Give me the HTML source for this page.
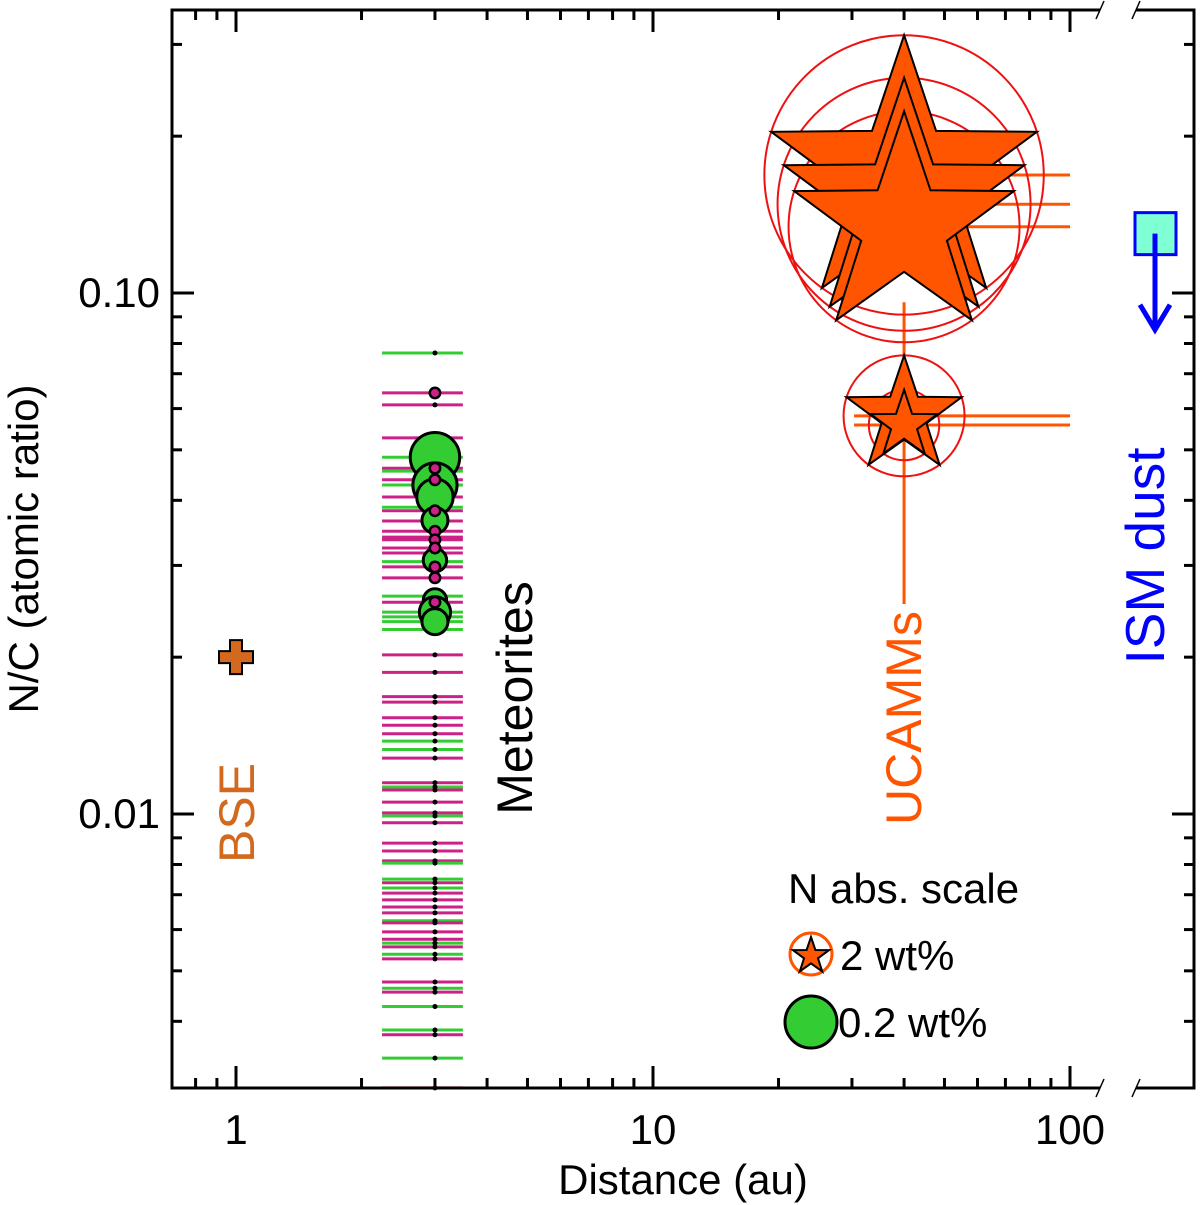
<!DOCTYPE html>
<html><head><meta charset="utf-8"><style>
html,body{margin:0;padding:0;background:#fff}
svg{display:block}
text{font-family:"Liberation Sans",Arial,sans-serif}
</style></head><body>
<svg id="chart" width="1200" height="1205" viewBox="0 0 1200 1205" xmlns="http://www.w3.org/2000/svg">
<g id="marks"></g>
<g id="axes"></g>
</svg>
<script>
// ---- data ----
const metGreenNC = [0.0767,0.0484,0.0455,0.0428,0.0388,0.0305,0.0262,0.0244,0.0239,0.0234,0.0226,0.0138,0.0133,0.01127,0.00991,0.00805,0.0075,0.00721,0.00624,0.00565,0.00538,0.00463,0.00427,0.00385,0.0034];
const metMagentaNC = [0.0643,0.061,0.0527,0.0461,0.0438,0.0406,0.0382,0.0365,0.0349,0.034,0.0336,0.0324,0.0317,0.0298,0.0284,0.0255,0.0202,0.0187,0.0168,0.0164,0.0153,0.0148,0.01426,0.0128,0.01148,0.01112,0.01054,0.01005,0.00962,0.00879,0.00849,0.00813,0.00738,0.00705,0.00684,0.00663,0.00646,0.00618,0.00594,0.00575,0.00556,0.00527,0.00476,0.00455,0.00377,0.00298];
const metDistance = 3.0;
const metDistRange = [2.24, 3.5];
const metGreenCircleNC = [0.0484,0.0428,0.0406,0.0366,0.0307,0.0257,0.0244,0.0234];
const metGreenCircleWt = [0.19,0.17,0.14,0.10,0.09,0.09,0.12,0.10];
const metPinkCircleNC = [0.0643,0.0461,0.0438,0.0382,0.0349,0.0336,0.0324,0.0298,0.0284,0.0255];
const metPinkCircleWt = [0.04,0.04,0.04,0.04,0.04,0.04,0.04,0.04,0.04,0.04];
const ucammDistance = 40;
const ucammNC = [0.1685,0.148,0.134,0.0581,0.0558];
const ucammWt = [12.7,11.5,10.5,5.5,3.2];
const ucammErrNCRange = [0.096,0.0253];
const ucammDistRange = [25,100];
const bseDistance = 1; const bseNC = 0.02;
const ismDistance = 150; const ismNC = 0.13; const ismArrowTo = 0.085;
const yTickLabels = ["0.10","0.01"]; const yTickValues = [0.1,0.01];
const xTickLabels = ["1","10","100"]; const xTickValues = [1,10,100];

// ---- scales ----
const X = d => d > 110 ? 1155 : 236 + Math.log10(d)*417;
const Y = v => 293 - (Math.log10(v)+1)*521;
const NS = "http://www.w3.org/2000/svg";
const marks = document.getElementById('marks');
const axes = document.getElementById('axes');
function mk(tag, attrs, parent){ const e=document.createElementNS(NS,tag); for(const k in attrs) e.setAttribute(k,attrs[k]); parent.appendChild(e); return e; }
function starPts(cx,cy,R){ const r=R*0.39; let p=[]; for(let i=0;i<10;i++){ const a=-Math.PI/2+i*Math.PI/5; const rr=i%2?r:R; p.push((cx+rr*Math.cos(a)).toFixed(1)+','+(cy+rr*Math.sin(a)).toFixed(1)); } return p.join(' '); }

// meteorite error lines
const x0=X(metDistRange[0]), x1=X(metDistRange[1]), xm=X(metDistance);
const allLines = metGreenNC.map(v=>[v,'#33cc33']).concat(metMagentaNC.map(v=>[v,'#cc2288']));
allLines.sort((a,b)=>b[0]-a[0]);
allLines.forEach(([v,c])=>{
  const l=mk('line',{x1:x0,x2:x1,y1:Y(v),y2:Y(v),stroke:c,'stroke-width':3},marks);
  
  
});
allLines.forEach(([v])=>{
  const d=mk('circle',{cx:xm,cy:Y(v),r:2.5,fill:'#000'},marks);
  
  
});
metGreenCircleNC.forEach((v,i)=>{
  const c=mk('circle',{cx:xm,cy:Y(v),r:metGreenCircleWt[i]*130,fill:'#33cc33',stroke:'#000','stroke-width':3},marks);
  
  
});
metPinkCircleNC.forEach((v,i)=>{
  const c=mk('circle',{cx:xm,cy:Y(v),r:metPinkCircleWt[i]*130,fill:'#cc2288',stroke:'#000','stroke-width':2.5},marks);
  
  
});

// UCAMMs
const ux=X(ucammDistance);
const ve=mk('line',{x1:ux,x2:ux,y1:Y(ucammErrNCRange[0]),y2:Y(ucammErrNCRange[1]),stroke:'#ff5500','stroke-width':3},marks);


ucammNC.forEach(v=>{
  const h=mk('line',{x1:ux-50,x2:X(ucammDistRange[1]),y1:Y(v),y2:Y(v),stroke:'#ff5500','stroke-width':3},marks);
  
  
});
ucammNC.forEach((v,i)=>{
  const R=ucammWt[i]*11;
  const c=mk('circle',{cx:ux,cy:Y(v),r:R,fill:'none',stroke:'#ee1111','stroke-width':2},marks);
  
  
});
ucammNC.forEach((v,i)=>{
  const R=ucammWt[i]*11;
  const s=mk('polygon',{points:starPts(ux,Y(v),R),fill:'#ff5500',stroke:'#000','stroke-width':2},marks);
  
  
});

// BSE plus
(function(){ const cx=X(bseDistance), cy=Y(bseNC);
  const p=mk('path',{d:`M${cx-6},${cy-17}h12v11h11v12h-11v11h-12v-11h-11v-12h11z`,fill:'#d2691e',stroke:'#000','stroke-width':2},marks);
  
  
})();

// ISM
(function(){ const cx=X(ismDistance), cy=Y(ismNC);
  const s=mk('rect',{x:cx-20,y:cy-21,width:41,height:42,fill:'#7fffd4',stroke:'#0000ff','stroke-width':3},marks);
  
  
  const ay=Y(ismArrowTo);
  const a=mk('path',{d:`M${cx},${cy} V${ay} M${cx-15},${ay-25} L${cx},${ay} L${cx+15},${ay-25}`,fill:'none',stroke:'#0000ff','stroke-width':5},marks);
  
  
})();

// ---- axes ----
const L=172,R=1194,T=10,B=1088,BR1=1100,BR2=1136;
const frame=mk('path',{d:`M${BR1},${T} H${L} V${B} H${BR1} M${BR2},${B} H${R} V${T} H${BR2}`,fill:'none',stroke:'#000','stroke-width':3},axes);


[[BR1,T],[BR2,T],[BR1,B],[BR2,B]].forEach(([x,y])=>{
  const s=mk('line',{x1:x-4,y1:y+9,x2:x+4,y2:y-9,stroke:'#000','stroke-width':1.5},axes);
  
  
});
for(let dec=-1;dec<=2;dec++) for(let m=1;m<10;m++){
  const v=m*Math.pow(10,dec); const x=X(v); if(x<L+2||x>1072) continue;
  const len=m===1?22:10;
  mk('line',{x1:x,x2:x,y1:B,y2:B-len,stroke:'#000','stroke-width':3},axes);
  mk('line',{x1:x,x2:x,y1:T,y2:T+len,stroke:'#000','stroke-width':3},axes);
}
for(let dec=-3;dec<=-1;dec++) for(let m=1;m<10;m++){
  const v=m*Math.pow(10,dec); const y=Y(v); if(y<T+2||y>B-2) continue;
  const len=m===1?22:10;
  mk('line',{x1:L,x2:L+len,y1:y,y2:y,stroke:'#000','stroke-width':3},axes);
  mk('line',{x1:R,x2:R-len,y1:y,y2:y,stroke:'#000','stroke-width':3},axes);
}
function txt(s,attrs,name){ const t=mk('text',attrs,axes); t.textContent=s;   return t; }
yTickLabels.forEach((s,i)=>txt(s,{x:160,y:Y(yTickValues[i])+14,'font-size':42,'text-anchor':'end'},'y-tick-label'));
xTickLabels.forEach((s,i)=>txt(s,{x:X(xTickValues[i]),y:1144,'font-size':42,'text-anchor':'middle'},'x-tick-label'));
txt('Distance (au)',{x:683,y:1194,'font-size':42,'text-anchor':'middle'},'x-axis-title');
txt('N/C (atomic ratio)',{x:0,y:0,'font-size':42,'text-anchor':'middle',transform:'translate(38,549) rotate(-90)'},'y-axis-title');
txt('BSE',{x:0,y:0,'font-size':50,'text-anchor':'middle',fill:'#d2691e',transform:'translate(254,813) rotate(-90)'},'bse-label');
txt('Meteorites',{x:0,y:0,'font-size':50,'text-anchor':'middle',fill:'#000',transform:'translate(532,698) rotate(-90)'},'meteorites-label');
txt('UCAMMs',{x:0,y:0,'font-size':50,'text-anchor':'middle',fill:'#ff5500',transform:'translate(921,718) rotate(-90)'},'ucamms-label');
txt('ISM dust',{x:0,y:0,'font-size':55,'text-anchor':'middle',fill:'#0000ff',transform:'translate(1164,556) rotate(-90)'},'ism-dust-label');
txt('N abs. scale',{x:788,y:903,'font-size':42},'legend-title');
(function(){
  const c=mk('circle',{cx:811,cy:954,r:21,fill:'none',stroke:'#ff5500','stroke-width':3},axes);
   
  const s=mk('polygon',{points:starPts(811,956,19),fill:'#ff5500',stroke:'#000','stroke-width':2},axes);
   
  txt('2 wt%',{x:840,y:970,'font-size':42},'legend-entry-2wt');
  const g=mk('circle',{cx:811,cy:1022,r:26,fill:'#33cc33',stroke:'#000','stroke-width':3},axes);
   
  txt('0.2 wt%',{x:838,y:1037,'font-size':42},'legend-entry-0.2wt');
})();
</script>
</body></html>
